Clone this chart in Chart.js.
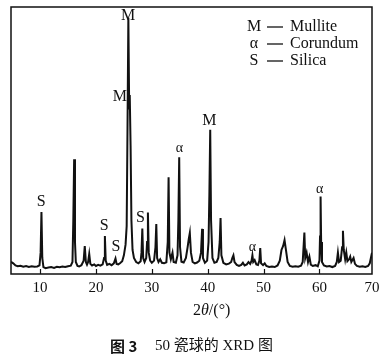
<!DOCTYPE html>
<html>
<head>
<meta charset="utf-8">
<script src="https://cdn.jsdelivr.net/npm/chart.js@4/dist/chart.umd.min.js"></script>
<style>
  html, body { margin: 0; padding: 0; background: #fff; }
  #wrap { width: 389px; height: 362px; position: relative; }
</style>
</head>
<body>
<div id="wrap"><canvas id="xrd"></canvas></div>
<script>
// diffraction angle 2theta (deg) and relative intensity
const twoTheta = [
  4.8, 5.2, 5.6, 6.0, 6.5, 7.0, 7.5, 8.0, 8.5, 9.0, 9.5, 9.9,
  10.1, 10.25, 10.4, 10.6, 11.0, 11.5, 12.0, 12.5, 13.0, 13.5, 14.0, 14.5,
  15.0, 15.5, 15.8, 15.95, 16.1, 16.25, 16.4, 16.7, 17.0, 17.4, 17.8, 18.0,
  18.2, 18.4, 18.6, 18.8, 19.0, 19.3, 19.7, 20.0, 20.4, 20.8, 21.2, 21.45,
  21.6, 21.75, 22.0, 22.4, 22.8, 23.2, 23.5, 23.7, 24.0, 24.3, 24.7, 25.0,
  25.3, 25.5, 25.65, 25.8, 25.95, 26.05, 26.2, 26.35, 26.55, 26.8, 27.2, 27.6,
  28.0, 28.15, 28.3, 28.45, 28.7, 29.0, 29.15, 29.3, 29.45, 29.7, 30.0, 30.4,
  30.65, 30.8, 30.95, 31.2, 31.5, 31.8, 32.2, 32.6, 32.85, 33.0, 33.15, 33.4,
  33.7, 33.9, 34.3, 34.6, 34.75, 34.9, 35.05, 35.3, 35.7, 36.1, 36.4, 36.6,
  36.8, 37.0, 37.3, 37.7, 38.1, 38.5, 38.8, 39.0, 39.15, 39.5, 39.9, 40.15,
  40.3, 40.45, 40.6, 40.85, 41.2, 41.6, 41.9, 42.15, 42.3, 42.45, 42.8, 43.3,
  43.8, 44.2, 44.4, 44.6, 44.8, 45.2, 45.6, 46.0, 46.3, 46.6, 47.0, 47.3,
  47.6, 47.85, 48.0, 48.15, 48.4, 48.7, 49.0, 49.25, 49.4, 49.55, 49.9, 50.2,
  50.5, 51.0, 51.5, 52.0, 52.5, 52.9, 53.2, 53.5, 53.75, 54.0, 54.3, 54.7,
  55.2, 55.7, 56.2, 56.7, 57.0, 57.15, 57.3, 57.45, 57.7, 57.95, 58.2, 58.45,
  58.8, 59.3, 59.7, 60.0, 60.1, 60.2, 60.3, 60.45, 60.8, 61.3, 61.8, 62.3,
  62.8, 63.1, 63.3, 63.5, 63.8, 64.05, 64.2, 64.35, 64.6, 64.8, 65.0, 65.3,
  65.5, 65.7, 66.1, 66.35, 66.7, 67.2, 67.7, 68.2, 68.7, 69.0, 69.2, 69.4
];
const intensity = [
  4.6, 4.0, 3.2, 2.9, 3.1, 2.7, 3.0, 2.6, 2.9, 2.7, 2.8, 3.2,
  8.0, 23.2, 6.0, 2.6, 2.2, 2.4, 2.6, 2.3, 2.7, 2.5, 2.8, 2.6,
  2.9, 3.1, 4.5, 20.0, 43.0, 12.0, 4.5, 3.0, 2.8, 3.3, 5.0, 10.5,
  4.5, 3.5, 4.5, 7.5, 3.8, 3.2, 3.6, 3.0, 3.4, 3.1, 3.6, 6.0,
  14.2, 5.0, 3.4, 3.8, 3.3, 4.0, 5.8, 3.8, 3.6, 4.0, 4.8, 7.0,
  11.0, 18.0, 55.0, 96.0, 62.0, 67.0, 48.0, 20.0, 9.0, 6.0, 4.5, 4.0,
  4.8, 8.0, 17.0, 6.0, 4.5, 6.0, 12.0, 23.0, 8.0, 5.0, 4.2, 5.0,
  10.0, 18.7, 6.0, 4.5, 5.5, 4.2, 4.0, 4.4, 12.0, 36.2, 8.0, 5.5,
  8.0, 4.5, 4.2, 7.0, 20.0, 43.7, 10.0, 4.6, 4.3, 6.0, 10.0, 13.0,
  15.4, 8.0, 4.5, 4.0, 4.3, 5.0, 8.0, 16.9, 6.0, 4.2, 5.0, 12.0,
  30.0, 54.0, 20.0, 6.0, 4.2, 4.5, 6.0, 12.0, 21.0, 7.0, 4.2, 3.6,
  3.9, 4.5, 6.0, 7.0, 4.5, 3.4, 3.0, 3.4, 4.2, 3.2, 3.6, 4.5,
  3.8, 5.0, 7.0, 4.5, 5.2, 3.6, 3.4, 5.0, 9.7, 4.0, 3.3, 4.0,
  3.0, 2.6, 2.8, 2.6, 3.2, 5.0, 9.0, 10.5, 12.7, 9.0, 4.5, 3.0,
  2.7, 2.9, 2.7, 3.1, 4.5, 10.0, 15.5, 6.0, 8.0, 4.5, 6.5, 3.5,
  3.0, 3.3, 2.9, 5.0, 14.0, 29.0, 12.0, 4.5, 3.2, 2.8, 3.0, 2.6,
  3.0, 4.5, 8.0, 4.5, 5.0, 10.0, 16.2, 9.0, 5.5, 8.0, 4.8, 5.5,
  6.5, 4.5, 6.0, 3.8, 3.0, 2.7, 2.9, 2.6, 3.0, 4.0, 6.0, 8.0
];

// x axis labels
const tickValues = [10, 20, 30, 40, 50, 60, 69.4];
const tickLabels = ['10', '20', '30', '40', '50', '60', '70'];

// phase marks above peaks: text, 2theta, intensity
const markText = ['M', 'M', 'M', 'α', 'α', 'α', 'S', 'S', 'S', 'S'];
const markAt = [25.75, 24.3, 40.3, 34.95, 48.0, 60.05, 10.2, 21.5, 23.6, 27.95];
const markLevel = [96.6, 66.5, 57.5, 47.2, 10.0, 31.6, 27.1, 18.0, 10.1, 21.0];

const legendSymbols = ['M', 'α', 'S'];
const legendNames = ['Mullite', 'Corundum', 'Silica'];

const points = twoTheta.map((t, i) => ({ x: t, y: intensity[i] }));

const SERIF = "'Liberation Serif', 'DejaVu Serif', serif";

const decorations = {
  id: 'decorations',
  afterDatasetsDraw(chart) {
    const { ctx, chartArea: a, scales } = chart;
    const x = scales.x, y = scales.y;
    ctx.save();

    // frame
    ctx.strokeStyle = '#111';
    ctx.lineWidth = 1.5;
    ctx.strokeRect(a.left, a.top, a.right - a.left, a.bottom - a.top);

    // inward tick marks
    ctx.lineWidth = 1.2;
    tickValues.slice(0, 6).forEach(v => {
      const px = Math.round(x.getPixelForValue(v)) + 0.5;
      ctx.beginPath();
      ctx.moveTo(px, a.bottom);
      ctx.lineTo(px, a.bottom - 5);
      ctx.stroke();
    });

    // peak marks
    ctx.fillStyle = '#111';
    ctx.textAlign = 'center';
    ctx.textBaseline = 'middle';
    markText.forEach((t, i) => {
      ctx.font = (t === 'α' ? '14px ' : '16px ') + SERIF;
      ctx.fillText(t, x.getPixelForValue(markAt[i]), y.getPixelForValue(markLevel[i]));
    });

    // legend
    ctx.font = '16px ' + SERIF;
    legendSymbols.forEach((s, i) => {
      const ly = 27 + i * 17;
      ctx.textAlign = 'center';
      ctx.fillText(s, 254, ly);
      ctx.beginPath();
      ctx.lineWidth = 1.3;
      ctx.moveTo(267, ly);
      ctx.lineTo(283, ly);
      ctx.stroke();
      ctx.textAlign = 'left';
      ctx.fillText(legendNames[i], 290, ly);
    });

    // axis title 2θ/(°)
    ctx.font = '16px ' + SERIF;
    ctx.textAlign = 'left';
    let tx = 193;
    const ty = 311;
    ctx.fillText('2', tx, ty);
    tx += ctx.measureText('2').width;
    ctx.font = 'italic 16px ' + SERIF;
    ctx.fillText('θ', tx, ty);
    tx += ctx.measureText('θ').width;
    ctx.font = '16px ' + SERIF;
    ctx.fillText('/(°)', tx, ty);

    // caption
    ctx.font = "bold 15px 'Noto Sans CJK SC', " + SERIF;
    ctx.fillText('图 3', 110, 346);
    ctx.font = "15px " + SERIF + ", 'Noto Sans CJK SC'";
    ctx.fillText('50 瓷球的 XRD 图', 155, 346);

    ctx.restore();
  }
};

new Chart(document.getElementById('xrd'), {
  type: 'scatter',
  data: {
    datasets: [{
      data: points,
      showLine: true,
      borderColor: '#111',
      borderWidth: 2,
      pointRadius: 0,
      tension: 0
    }]
  },
  options: {
    responsive: true,
    maintainAspectRatio: false,
    animation: false,
    layout: { padding: { left: 11, right: 17, top: 7, bottom: 0 } },
    plugins: { legend: { display: false }, tooltip: { enabled: false } },
    scales: {
      x: {
        type: 'linear',
        min: 4.8,
        max: 69.4,
        grid: { display: false, drawTicks: false },
        border: { display: false },
        afterBuildTicks: scale => {
          scale.ticks = tickValues.map(v => ({ value: v }));
        },
        afterFit: scale => { scale.height = 88; },
        ticks: {
          autoSkip: false,
          maxRotation: 0,
          padding: 5,
          color: '#111',
          font: { family: SERIF, size: 15 },
          callback: (value, index) => tickLabels[index]
        }
      },
      y: {
        display: false,
        min: 0,
        max: 100
      }
    }
  },
  plugins: [decorations]
});
</script>
</body>
</html>
